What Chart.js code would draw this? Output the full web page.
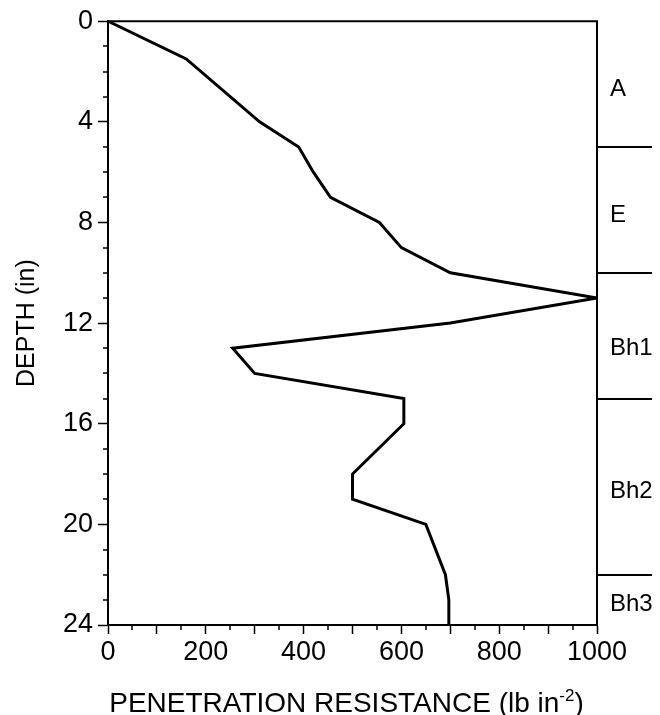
<!DOCTYPE html>
<html>
<head>
<meta charset="utf-8">
<script src="https://cdn.jsdelivr.net/npm/chart.js@4/dist/chart.umd.min.js"></script>
<style>
  html, body { margin: 0; padding: 0; background: #fff; }
  #wrap { width: 660px; height: 715px; position: relative; }
</style>
</head>
<body>
<div id="wrap"><canvas id="depthChart"></canvas></div>
<script>
// profile: depth (in) vs penetration resistance (lb in-2)
var depths = [0, 1.5, 4, 5, 6, 7, 8, 9, 10, 11, 12, 13, 14, 15, 16, 18, 19, 20, 22, 23, 24];
var resistance = [0, 160, 310, 390, 420, 455, 555, 600, 700, 1000, 700, 255, 300, 605, 605, 500, 500, 650, 690, 697, 697];

// soil horizons on the right side
var horizonNames = ["A", "E", "Bh1", "Bh2", "Bh3"];
var horizonLabelDepths = [2.7, 7.7, 13, 18.7, 23.2];
var horizonBounds = [5, 10, 15, 22];

var FONT = "'Liberation Sans', Arial, Helvetica, sans-serif";

var points = depths.map(function (d, i) {
  return { x: resistance[i], y: d };
});

// minor ticks, frame, horizons and the x title (with superscript)
var extras = {
  id: "extras",
  afterDraw: function (chart) {
    var c = chart.ctx;
    var a = chart.chartArea;
    var xs = chart.scales.x;
    var ys = chart.scales.y;
    c.save();
    c.strokeStyle = "#000";
    c.fillStyle = "#000";

    // frame top + right
    c.lineWidth = 2;
    c.beginPath();
    c.moveTo(a.left, a.top);
    c.lineTo(a.right, a.top);
    c.lineTo(a.right, a.bottom);
    c.stroke();

    // minor ticks
    c.lineWidth = 1.5;
    c.beginPath();
    for (var v = 50; v < 1000; v += 100) {
      var px = Math.round(xs.getPixelForValue(v));
      c.moveTo(px, a.bottom);
      c.lineTo(px, a.bottom + 5);
    }
    for (var d = 1; d < 24; d++) {
      if (d % 4 === 0) continue;
      var py = Math.round(ys.getPixelForValue(d));
      c.moveTo(a.left, py);
      c.lineTo(a.left - 5, py);
    }
    c.stroke();

    // horizon boundaries
    c.lineWidth = 2;
    c.beginPath();
    horizonBounds.forEach(function (b) {
      var y = Math.round(ys.getPixelForValue(b));
      c.moveTo(a.right, y);
      c.lineTo(a.right + 55, y);
    });
    c.stroke();

    c.font = "24px " + FONT;
    c.textAlign = "left";
    c.textBaseline = "middle";
    horizonNames.forEach(function (n, i) {
      c.fillText(n, a.right + 13, ys.getPixelForValue(horizonLabelDepths[i]));
    });

    // x axis title
    var main = "PENETRATION RESISTANCE (lb in";
    var sup = "-2";
    var tail = ")";
    c.font = "28px " + FONT;
    var w1 = c.measureText(main).width;
    var w3 = c.measureText(tail).width;
    c.font = "17px " + FONT;
    var w2 = c.measureText(sup).width;
    var x0 = (a.left + a.right) / 2 - 6 - (w1 + w2 + w3) / 2;
    var base = 712;
    c.textBaseline = "alphabetic";
    c.font = "28px " + FONT;
    c.fillText(main, x0, base);
    c.font = "17px " + FONT;
    c.fillText(sup, x0 + w1, base - 11);
    c.font = "28px " + FONT;
    c.fillText(tail, x0 + w1 + w2, base);
    c.restore();
  }
};

var depthChart = new Chart(document.getElementById("depthChart").getContext("2d"), {
  type: "scatter",
  data: {
    datasets: [
      {
        label: "Penetration resistance",
        data: points,
        showLine: true,
        borderColor: "#000",
        borderWidth: 3,
        pointRadius: 0,
        tension: 0,
        fill: false,
      },
    ],
  },
  options: {
    responsive: true,
    maintainAspectRatio: false,
    animation: false,
    layout: { padding: { top: 21, right: 63, left: 0, bottom: 0 } },
    plugins: { legend: { display: false }, tooltip: { enabled: false } },
    scales: {
      x: {
        type: "linear",
        min: 0,
        max: 1000,
        afterFit: function (s) { s.height = 90; },
        border: { display: true, color: "#000", width: 2 },
        grid: { drawOnChartArea: false, color: "#000", tickColor: "#000", tickLength: 9, tickWidth: 1.5 },
        ticks: {
          stepSize: 100,
          padding: 2,
          color: "#000",
          font: { family: FONT, size: 27 },
          maxRotation: 0,
          autoSkip: false,
          callback: function (v) { return v % 200 === 0 ? v : ""; },
        },
      },
      y: {
        type: "linear",
        min: 0,
        max: 24,
        reverse: true,
        afterFit: function (s) { s.width = 108; },
        border: { display: true, color: "#000", width: 2 },
        grid: { drawOnChartArea: false, color: "#000", tickColor: "#000", tickLength: 10, tickWidth: 1.5 },
        title: {
          display: true,
          text: "DEPTH (in)",
          color: "#000",
          font: { family: FONT, size: 25 },
          padding: { top: 12, bottom: 0 },
        },
        ticks: {
          stepSize: 4,
          padding: 5,
          color: "#000",
          font: { family: FONT, size: 27 },
        },
      },
    },
  },
  plugins: [extras],
});
</script>
</body>
</html>
